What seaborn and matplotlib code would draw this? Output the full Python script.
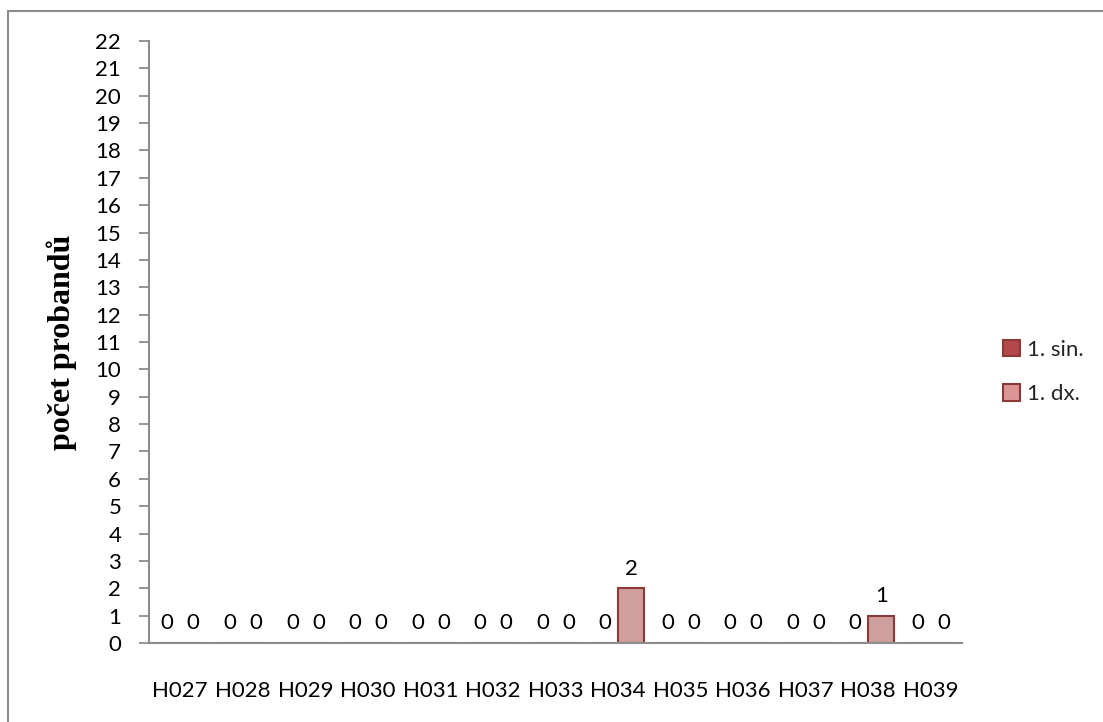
import matplotlib.pyplot as plt
import matplotlib.lines as mlines
from matplotlib.patches import Patch
import pandas as pd
import seaborn as sns

# data
categories = ["H027", "H028", "H029", "H030", "H031", "H032", "H033",
              "H034", "H035", "H036", "H037", "H038", "H039"]
sin_values = [0, 0, 0, 0, 0, 0, 0, 0, 0, 0, 0, 0, 0]
dx_values = [0, 0, 0, 0, 0, 0, 0, 2, 0, 0, 0, 1, 0]
series_names = ["1. sin.", "1. dx."]
series_colors = ["#B3474A", "#D99694"]

df = pd.DataFrame({
    "kategorie": categories * 2,
    "serie": [series_names[0]] * len(categories) + [series_names[1]] * len(categories),
    "pocet": sin_values + dx_values,
})

sns.set_theme(style="white")
plt.rcParams["font.family"] = ["Lato", "DejaVu Sans"]
fs = 16

fig, ax = plt.subplots(figsize=(11.03, 7.22), dpi=100)
fig.subplots_adjust(left=0.1351, right=0.8722, bottom=0.1094, top=0.9432)

sns.barplot(
    data=df, x="kategorie", y="pocet", hue="serie",
    palette=series_colors, width=0.83, ax=ax, legend=False,
    **{"edgecolor": "#8C3A38", "linewidth": 1.5}
)

for c in ax.containers:
    ax.bar_label(c, padding=7, fontsize=fs, color="black")

ax.set_ylim(0, 22)
ax.set_yticks(range(0, 23))
ax.set_xlim(-0.5, len(categories) - 0.5)
ax.set(xlabel="")

sns.despine(ax=ax)
for side in ("left", "bottom"):
    ax.spines[side].set_color("#8C8C8C")
    ax.spines[side].set_linewidth(1.5)

ax.tick_params(axis="y", left=True, length=7, width=1.3, color="#8C8C8C",
               pad=13, labelsize=fs, labelcolor="black")
ax.tick_params(axis="x", bottom=False, length=0, pad=27, labelsize=fs,
               labelcolor="black")

ax.set_ylabel("počet probandů", fontfamily="Liberation Serif", fontweight="bold",
              fontsize=23, color="black")
ax.yaxis.set_label_coords(-0.0886, 0.5)

handles = [Patch(facecolor=col, edgecolor="#8C3A38", linewidth=1.5)
           for col in series_colors]
ax.legend(handles=handles, labels=series_names, loc="center left",
          bbox_to_anchor=(1003 / 1103, 1 - 372 / 722), bbox_transform=fig.transFigure,
          frameon=False, borderpad=0, borderaxespad=0, fontsize=fs,
          handlelength=0.75, handleheight=0.75, handletextpad=0.35, labelspacing=1.1)

# outer chart frame (only left and top visible in the crop)
frame_kw = {"transform": fig.transFigure, "color": "#8C8C8C", "linewidth": 1.5}
fig.add_artist(mlines.Line2D([8 / 1103, 8 / 1103], [0, 1 - 11 / 722], **frame_kw))
fig.add_artist(mlines.Line2D([8 / 1103, 1], [1 - 11 / 722, 1 - 11 / 722], **frame_kw))

fig.savefig("out.png", dpi=100)
